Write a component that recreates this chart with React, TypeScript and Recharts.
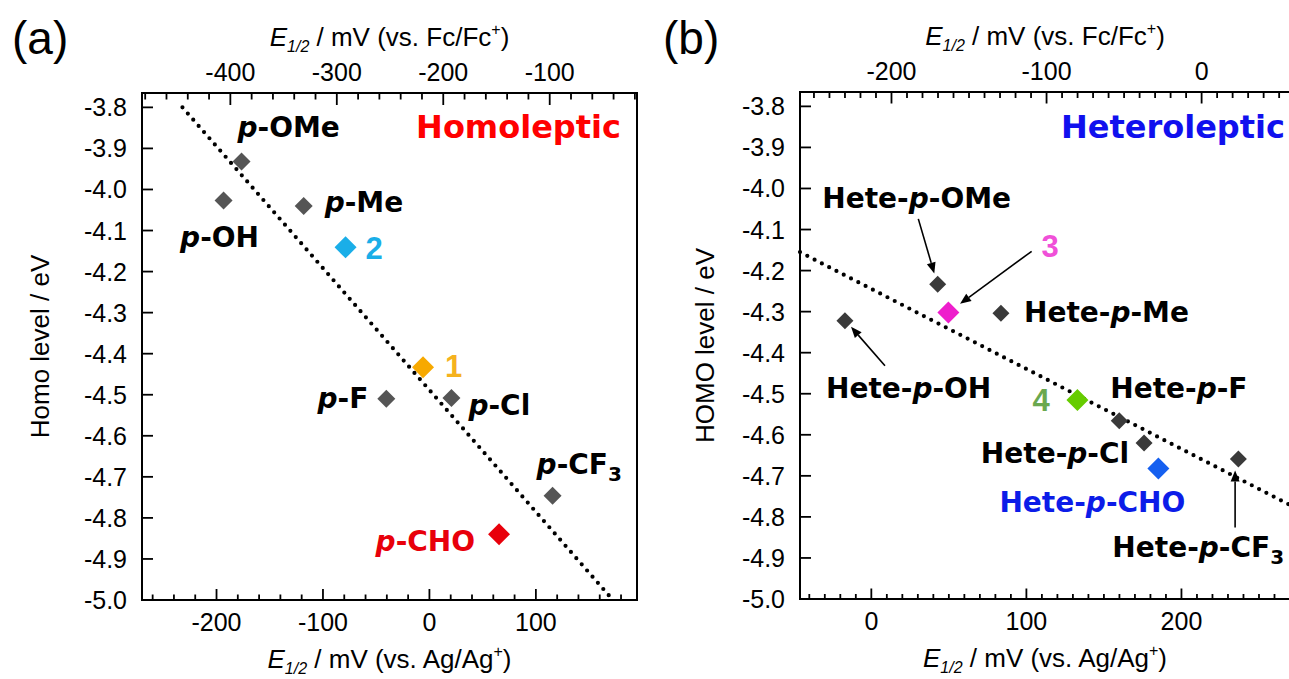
import React from 'react';
import { ScatterChart, Scatter, XAxis, YAxis, ReferenceLine, ReferenceArea } from 'recharts';

const FONT = '"Liberation Sans", Arial, Helvetica, sans-serif';
const BOLD = '"DejaVu Sans", Verdana, sans-serif';

// ---------- Panel (a): Homoleptic ----------
const homoGray = [
  { name: 'p-OMe', x: -176.5, y: -3.932 },
  { name: 'p-OH', x: -193.4, y: -4.027 },
  { name: 'p-Me', x: -118.1, y: -4.04 },
  { name: 'p-F', x: -40.5, y: -4.51 },
  { name: 'p-Cl', x: 20.7, y: -4.508 },
  { name: 'p-CF3', x: 115.7, y: -4.746 },
];
const homoOne = [{ name: '1', x: -6.0, y: -4.433 }];
const homoTwo = [{ name: '2', x: -78.8, y: -4.141 }];
const homoCHO = [{ name: 'p-CHO', x: 65.4, y: -4.84 }];
const homoFit = [
  { x: -232, y: -3.8 },
  { x: 170, y: -4.993 },
];

// ---------- Panel (b): Heteroleptic ----------
const heteGray = [
  { name: 'Hete-p-OMe', x: 42.8, y: -4.233 },
  { name: 'Hete-p-Me', x: 83.6, y: -4.304 },
  { name: 'Hete-p-OH', x: -17.0, y: -4.322 },
  { name: 'Hete-p-F', x: 159.9, y: -4.566 },
  { name: 'Hete-p-Cl', x: 175.9, y: -4.62 },
  { name: 'Hete-p-CF3', x: 236.7, y: -4.659 },
];
const heteThree = [{ name: '3', x: 49.7, y: -4.302 }];
const heteFour = [{ name: '4', x: 132.9, y: -4.515 }];
const heteCHO = [{ name: 'Hete-p-CHO', x: 185.1, y: -4.682 }];
const heteFit = [
  { x: -46, y: -4.155 },
  { x: 270, y: -4.771 },
];
const heteArrows = [
  { from: { x: 30.3, y: -4.074 }, to: { x: 40.6, y: -4.207 } },
  { from: { x: 103.4, y: -4.153 }, to: { x: 57.2, y: -4.281 } },
  { from: { x: 8.8, y: -4.432 }, to: { x: -13.1, y: -4.337 } },
  { from: { x: 234.6, y: -4.826 }, to: { x: 234.6, y: -4.687 } },
];

// ---------- axes ----------
const FC_OFFSET = 213; // E(Fc/Fc+) = E(Ag/Ag+) - 213 mV
const yDomain: [number, number] = [-5.0, -3.765];
const yTicks = [-3.8, -3.9, -4.0, -4.1, -4.2, -4.3, -4.4, -4.5, -4.6, -4.7, -4.8, -4.9, -5.0];
const homoXDomain: [number, number] = [-270, 195];
const homoBottomTicks = [-260, -240, -220, -200, -180, -160, -140, -120, -100, -80, -60, -40, -20, 0, 20, 40, 60, 80, 100, 120, 140, 160, 180];
const homoTopTicks = [-480, -460, -440, -420, -400, -380, -360, -340, -320, -300, -280, -260, -240, -220, -200, -180, -160, -140, -120, -100, -80, -60, -40, -20];
const heteXDomain: [number, number] = [-46, 270];
const heteBottomTicks = [-40, -30, -20, -10, 0, 10, 20, 30, 40, 50, 60, 70, 80, 90, 100, 110, 120, 130, 140, 150, 160, 170, 180, 190, 200, 210, 220, 230, 240, 250, 260];
const heteTopTicks = [-250, -240, -230, -220, -210, -200, -190, -180, -170, -160, -150, -140, -130, -120, -110, -100, -90, -80, -70, -60, -50, -40, -30, -20, -10, 0, 10, 20, 30, 40, 50];

// ---------- label placement (pixel offsets from the point) ----------
type Anchor = 'start' | 'middle' | 'end';
const homoLabels: Record<string, { dx: number; dy: number; anchor: Anchor }> = {
  'p-OMe': { dx: -4, dy: -25, anchor: 'start' },
  'p-OH': { dx: -4, dy: 46, anchor: 'middle' },
  'p-Me': { dx: 21, dy: 6, anchor: 'start' },
  'p-F': { dx: -18, dy: 9, anchor: 'end' },
  'p-Cl': { dx: 17, dy: 17, anchor: 'start' },
  'p-CF3': { dx: -16, dy: -22, anchor: 'start' },
  '1': { dx: 22, dy: 10, anchor: 'start' },
  '2': { dx: 20, dy: 12, anchor: 'start' },
  'p-CHO': { dx: -24, dy: 17, anchor: 'end' },
};
const heteLabels: Record<string, { dx: number; dy: number; anchor: Anchor }> = {
  'Hete-p-OMe': { dx: -21, dy: -76, anchor: 'middle' },
  '3': { dx: 93, dy: -55, anchor: 'start' },
  'Hete-p-Me': { dx: 23, dy: 9, anchor: 'start' },
  'Hete-p-OH': { dx: -19, dy: 77, anchor: 'start' },
  '4': { dx: -45, dy: 11, anchor: 'start' },
  'Hete-p-F': { dx: -9, dy: -23, anchor: 'start' },
  'Hete-p-Cl': { dx: -15, dy: 20, anchor: 'end' },
  'Hete-p-CHO': { dx: -66, dy: 44, anchor: 'middle' },
  'Hete-p-CF3': { dx: -126, dy: 98, anchor: 'start' },
};

function PointLabel({ name, x, y, anchor, color }: any) {
  const idx = name.indexOf('p-');
  if (idx < 0) {
    return (
      <text x={x} y={y} textAnchor={anchor} fontFamily={FONT} fontWeight="bold" fontSize={31} fill={color}>
        {name}
      </text>
    );
  }
  const pre = name.slice(0, idx);
  let rest = name.slice(idx + 1);
  let sub: string | null = null;
  if (/\d$/.test(rest)) {
    sub = rest.slice(-1);
    rest = rest.slice(0, -1);
  }
  return (
    <text x={x} y={y} textAnchor={anchor} fontFamily={BOLD} fontWeight="bold" fontSize={28} fill={color}>
      {pre}
      <tspan fontStyle="italic">p</tspan>
      {rest}
      {sub && (
        <tspan fontSize={20} dy={7}>
          {sub}
        </tspan>
      )}
    </text>
  );
}

const makeShape = (fill: string, r: number, labelColor: string, labels: any) => (p: any) => {
  const { cx, cy, payload } = p;
  if (cx == null || cy == null) return <g />;
  const cfg = labels[payload.name];
  return (
    <g>
      <polygon points={`${cx},${cy - r} ${cx + r},${cy} ${cx},${cy + r} ${cx - r},${cy}`} fill={fill} />
      {cfg && <PointLabel name={payload.name} x={cx + cfg.dx} y={cy + cfg.dy} anchor={cfg.anchor} color={labelColor} />}
    </g>
  );
};

const HiddenShape = () => <g />;

const makeXTick = (side: 'top' | 'bottom', majorLen: number, minorLen: number) => (p: any) => {
  const { x, y, payload } = p;
  const v = payload.value;
  const major = Math.abs(v % 100) < 1e-6;
  const dir = side === 'bottom' ? -1 : 1;
  const len = major ? majorLen : minorLen;
  return (
    <g>
      <line x1={x} x2={x} y1={y} y2={y + dir * len} stroke="#000" strokeWidth={1.8} />
      {major && (
        <text x={x} y={side === 'bottom' ? y + 31 : y - 12} textAnchor="middle" fontFamily={FONT} fontSize={25} fill="#000">
          {v}
        </text>
      )}
    </g>
  );
};

const YTick = (p: any) => {
  const { x, y, payload } = p;
  return (
    <g>
      <line x1={x} x2={x + 11} y1={y} y2={y} stroke="#000" strokeWidth={1.8} />
      <text x={x - 15} y={y + 9} textAnchor="end" fontFamily={FONT} fontSize={25} fill="#000">
        {Number(payload.value).toFixed(1)}
      </text>
    </g>
  );
};

const xTitle = (ref: string, baseline: (vb: any) => number) => (p: any) => {
  const vb = p.viewBox || {};
  const cx = vb.x + vb.width / 2;
  return (
    <text x={cx} y={baseline(vb)} textAnchor="middle" fontFamily={FONT} fontSize={26} fill="#000">
      <tspan fontStyle="italic">E</tspan>
      <tspan fontStyle="italic" fontSize={16} dy={6}>
        1/2
      </tspan>
      <tspan dy={-6}> / mV (vs. {ref}/{ref}</tspan>
      <tspan fontSize={16} dy={-11}>
        +
      </tspan>
      <tspan dy={11}>)</tspan>
    </text>
  );
};

const yTitle = (text: string, cxOff: number) => (p: any) => {
  const vb = p.viewBox || {};
  const cx = vb.x + cxOff;
  const cy = vb.y + vb.height / 2;
  return (
    <text
      x={cx}
      y={cy}
      transform={`rotate(-90 ${cx} ${cy})`}
      textAnchor="middle"
      dominantBaseline="central"
      fontFamily={FONT}
      fontSize={26}
      fill="#000"
    >
      {text}
    </text>
  );
};

const header = (text: string, color: string, rightOff: number, dy: number) => (p: any) => {
  const vb = p.viewBox || {};
  return (
    <text x={vb.x + vb.width - rightOff} y={vb.y + dy} textAnchor="end" fontFamily={BOLD} fontWeight="bold" fontSize={32} fill={color}>
      {text}
    </text>
  );
};

const ArrowShape = (p: any) => {
  const { x1, y1, x2, y2 } = p;
  const ang = Math.atan2(y2 - y1, x2 - x1);
  const L = 11;
  const W = 4.5;
  const bx = x2 - L * Math.cos(ang);
  const by = y2 - L * Math.sin(ang);
  const px = -Math.sin(ang) * W;
  const py = Math.cos(ang) * W;
  return (
    <g>
      <line x1={x1} y1={y1} x2={bx} y2={by} stroke="#000" strokeWidth={1.6} />
      <polygon points={`${x2},${y2} ${bx + px},${by + py} ${bx - px},${by - py}`} fill="#000" />
    </g>
  );
};

function Panel(props: any) {
  const {
    width,
    yAxisWidth,
    topH,
    bottomH,
    marginRight,
    xDomain,
    bottomTicks,
    topTicks,
    majorLen,
    minorLen,
    yTitleText,
    yTitleX,
    series,
    fit,
    arrows,
    headerText,
    headerColor,
    headerRight,
    headerDy,
  } = props;
  const topDomain: [number, number] = [xDomain[0] - FC_OFFSET, xDomain[1] - FC_OFFSET];
  const topAnchor = topTicks.map((v: number) => ({ x: v, y: yDomain[0] }));
  return (
    <ScatterChart width={width} height={679} margin={{ top: 0, right: marginRight, bottom: 0, left: 0 }}>
      <XAxis
        xAxisId="bottom"
        type="number"
        dataKey="x"
        orientation="bottom"
        domain={xDomain}
        allowDataOverflow
        ticks={bottomTicks}
        interval={0}
        height={bottomH}
        axisLine={false}
        tickLine={false}
        tickSize={0}
        tickMargin={0}
        tick={makeXTick('bottom', majorLen, minorLen)}
        label={xTitle('Ag', (vb) => vb.y + 68)}
      />
      <XAxis
        xAxisId="top"
        type="number"
        dataKey="x"
        orientation="top"
        domain={topDomain}
        allowDataOverflow
        ticks={topTicks}
        interval={0}
        height={topH}
        axisLine={false}
        tickLine={false}
        tickSize={0}
        tickMargin={0}
        tick={makeXTick('top', majorLen + 1, minorLen + 1)}
        label={xTitle('Fc', (vb) => vb.y + vb.height - 47)}
      />
      <YAxis
        yAxisId="left"
        type="number"
        dataKey="y"
        domain={yDomain}
        allowDataOverflow
        ticks={yTicks}
        interval={0}
        width={yAxisWidth}
        axisLine={false}
        tickLine={false}
        tickSize={0}
        tickMargin={0}
        tick={YTick}
        label={yTitle(yTitleText, yTitleX)}
      />
      <Scatter
        xAxisId="top"
        yAxisId="left"
        data={topAnchor}
        fill="none"
        isAnimationActive={false}
        shape={HiddenShape}
        legendType="none"
      />
      <ReferenceLine
        xAxisId="bottom"
        yAxisId="left"
        segment={fit}
        ifOverflow="visible"
        stroke="#000"
        strokeWidth={4.2}
        strokeDasharray="0 8.2"
        strokeLinecap="round"
      />
      {arrows.map((a: any, i: number) => (
        <ReferenceLine
          key={i}
          xAxisId="bottom"
          yAxisId="left"
          segment={[a.from, a.to]}
          ifOverflow="visible"
          stroke="#000"
          shape={ArrowShape}
        />
      ))}
      {series.map((s: any, i: number) => (
        <Scatter
          key={i}
          xAxisId="bottom"
          yAxisId="left"
          data={s.data}
          fill={s.fill}
          isAnimationActive={false}
          shape={makeShape(s.fill, s.r, s.labelColor, s.labels)}
        />
      ))}
      <ReferenceArea
        xAxisId="bottom"
        yAxisId="left"
        x1={xDomain[0]}
        x2={xDomain[1]}
        y1={yDomain[0]}
        y2={yDomain[1]}
        ifOverflow="visible"
        fill="none"
        fillOpacity={0}
        stroke="#000"
        strokeWidth={2}
        label={header(headerText, headerColor, headerRight, headerDy)}
      />
    </ScatterChart>
  );
}

export default function App() {
  const homoSeries = [
    { data: homoGray, fill: '#555555', r: 9, labelColor: '#000', labels: homoLabels },
    { data: homoOne, fill: '#f7a900', r: 11, labelColor: '#f5b21e', labels: homoLabels },
    { data: homoTwo, fill: '#1aaee8', r: 11, labelColor: '#1aaee8', labels: homoLabels },
    { data: homoCHO, fill: '#e8000b', r: 11, labelColor: '#e8000b', labels: homoLabels },
  ];
  const heteSeries = [
    { data: heteGray, fill: '#3a3a3a', r: 8.5, labelColor: '#000', labels: heteLabels },
    { data: heteThree, fill: '#ee1ecc', r: 11, labelColor: '#f050d8', labels: heteLabels },
    { data: heteFour, fill: '#66cc00', r: 11, labelColor: '#6aa84f', labels: heteLabels },
    { data: heteCHO, fill: '#1560f0', r: 11, labelColor: '#0c1ce8', labels: heteLabels },
  ];
  return (
    <div style={{ position: 'absolute', left: 0, top: 0, width: 1289, height: 679, overflow: 'hidden', background: '#fff' }}>
      <div style={{ position: 'absolute', left: 0, top: 0 }}>
        <Panel
          width={660}
          yAxisWidth={142}
          topH={93}
          bottomH={79}
          marginRight={23}
          xDomain={homoXDomain}
          bottomTicks={homoBottomTicks}
          topTicks={homoTopTicks}
          majorLen={11}
          minorLen={5.5}
          yTitleText="Homo level / eV"
          yTitleX={40}
          series={homoSeries}
          fit={homoFit}
          arrows={[]}
          headerText="Homoleptic"
          headerColor="#ff0000"
          headerRight={16}
          headerDy={45}
        />
      </div>
      <div style={{ position: 'absolute', left: 660, top: 0 }}>
        <Panel
          width={630}
          yAxisWidth={140}
          topH={92}
          bottomH={80}
          marginRight={0}
          xDomain={heteXDomain}
          bottomTicks={heteBottomTicks}
          topTicks={heteTopTicks}
          majorLen={10.5}
          minorLen={5}
          yTitleText="HOMO level / eV"
          yTitleX={45}
          series={heteSeries}
          fit={heteFit}
          arrows={heteArrows}
          headerText="Heteroleptic"
          headerColor="#1010ee"
          headerRight={5}
          headerDy={46}
        />
      </div>
      <div style={{ position: 'absolute', left: 12, top: 12, fontFamily: FONT, fontSize: 46, lineHeight: '52px', color: '#000' }}>(a)</div>
      <div style={{ position: 'absolute', left: 663, top: 12, fontFamily: FONT, fontSize: 46, lineHeight: '52px', color: '#000' }}>(b)</div>
    </div>
  );
}
